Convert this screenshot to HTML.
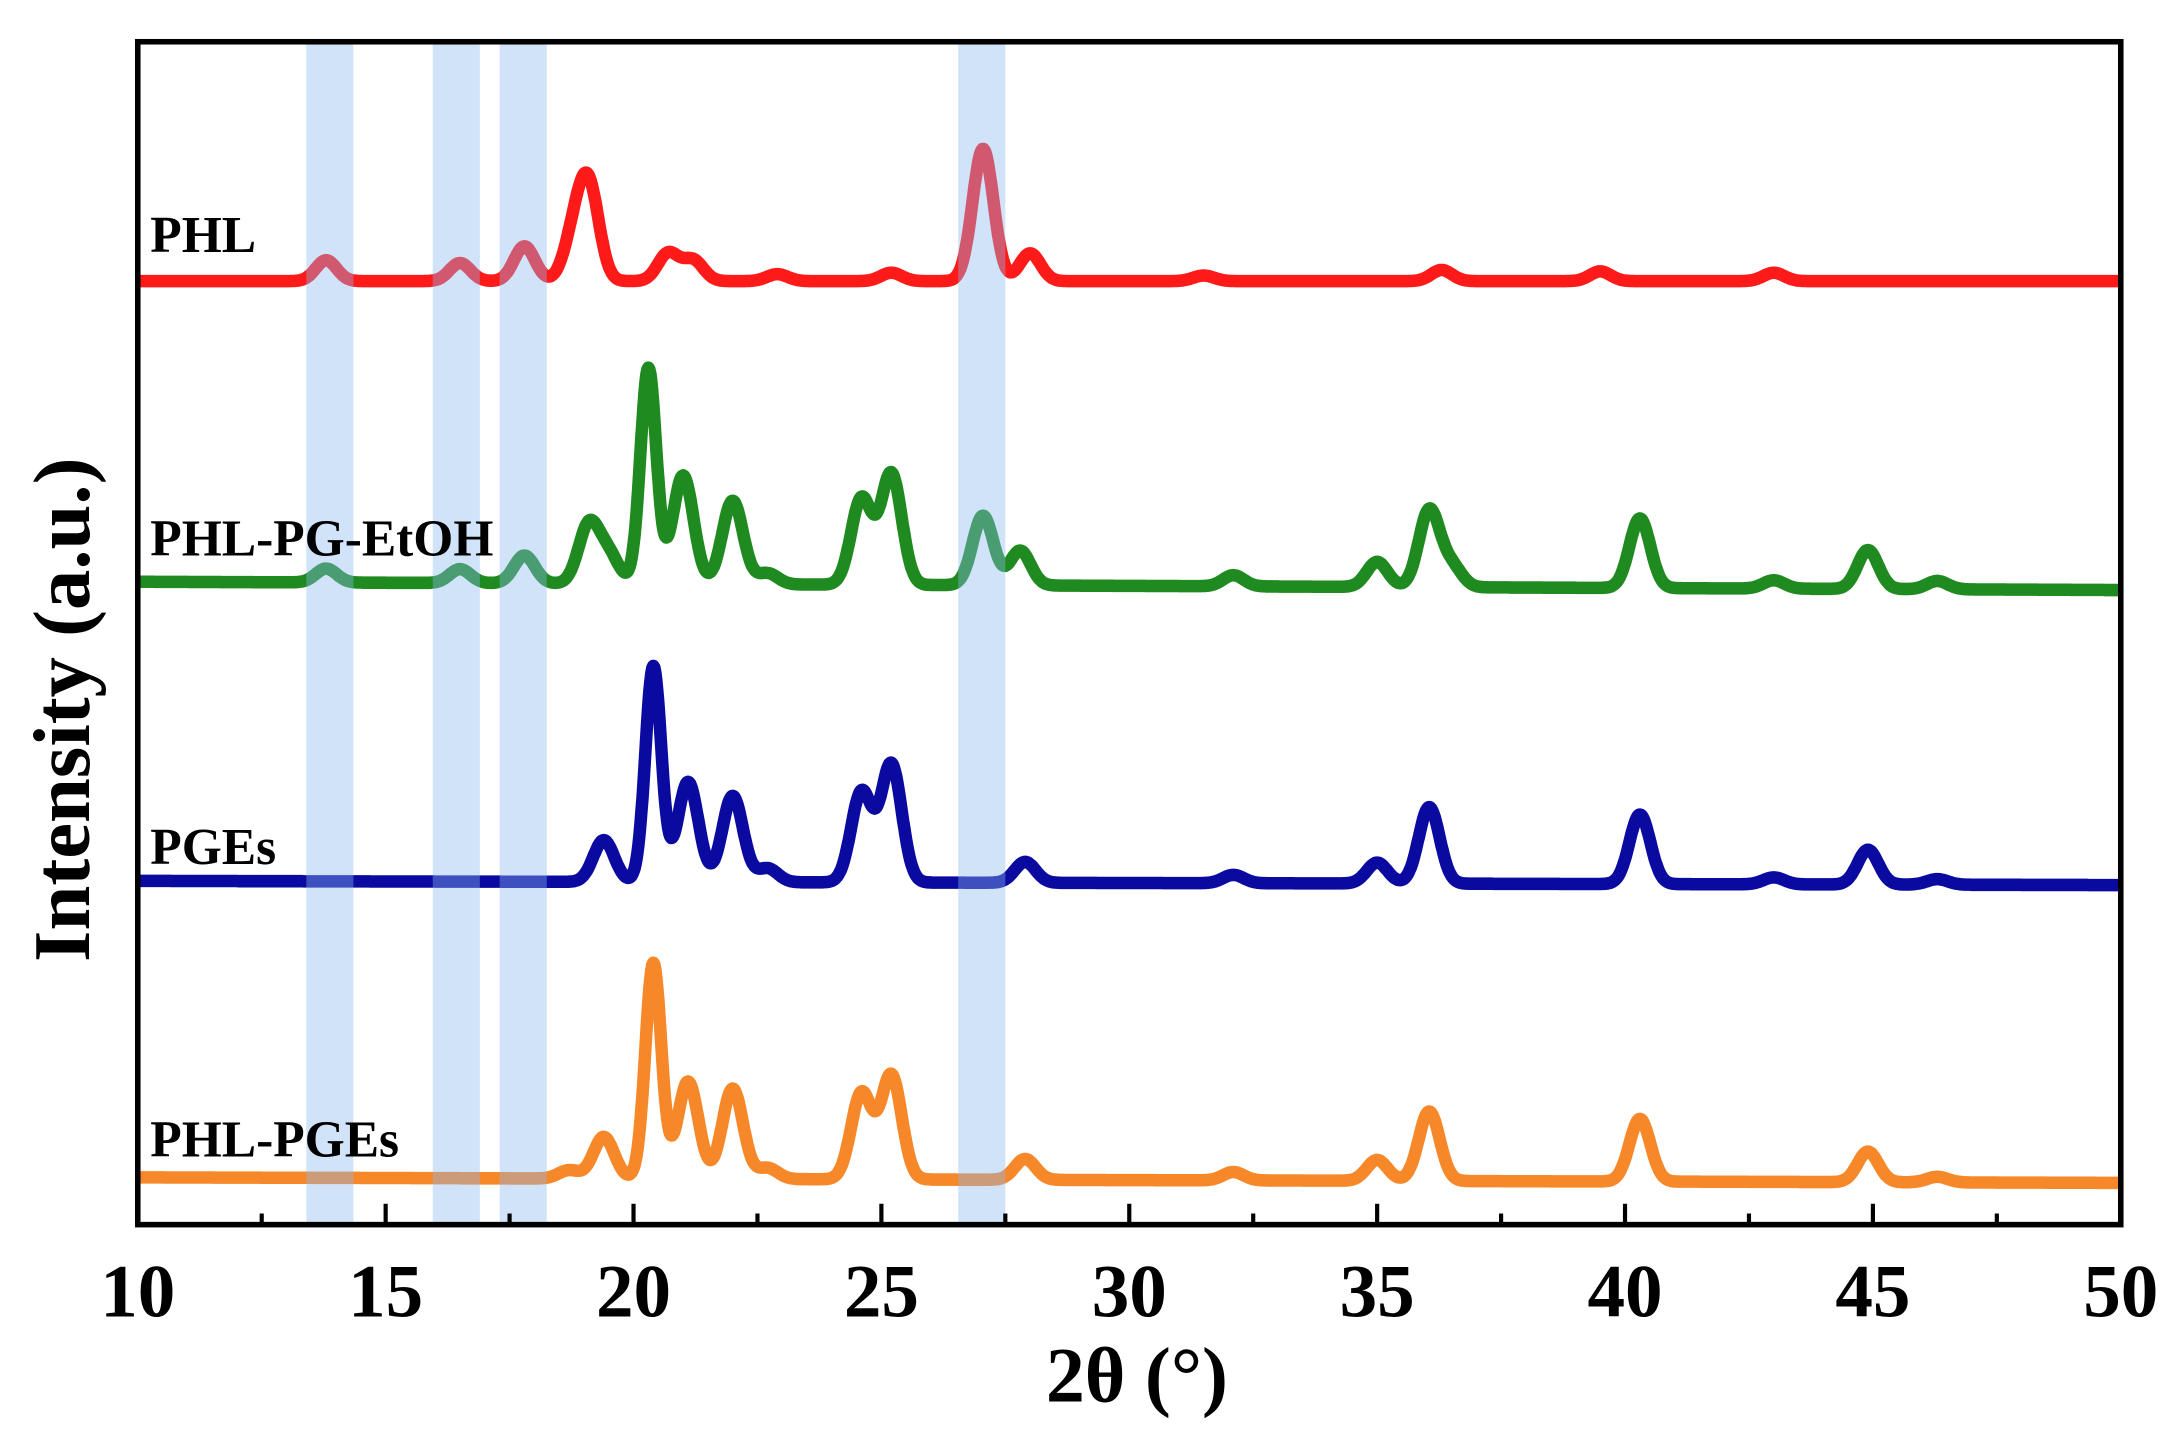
<!DOCTYPE html>
<html><head><meta charset="utf-8"><style>html,body{margin:0;padding:0;background:#fff}svg{display:block}</style></head>
<body>
<svg id="chart" width="2182" height="1432" viewBox="0 0 1568 1029" preserveAspectRatio="none" xmlns="http://www.w3.org/2000/svg" font-family="'Liberation Serif', serif" font-weight="bold">
<rect x="0" y="0" width="1568" height="1029" fill="#fff"/>
<g id="lines"></g>
<g id="bands"></g>
<rect x="99" y="30" width="1425" height="850" fill="none" stroke="#000" stroke-width="4"/>
<g id="ticks"></g>
<text x="108" y="181" font-size="37">PHL</text>
<text x="108" y="399" font-size="37">PHL-PG-EtOH</text>
<text x="108" y="621" font-size="37">PGEs</text>
<text x="108" y="831" font-size="37">PHL-PGEs</text>
<text x="817" y="1007" font-size="56" text-anchor="middle">2θ (°)</text>
<text transform="translate(64,510) rotate(-90)" font-size="58" text-anchor="middle">Intensity (a.u.)</text>
</svg>
<script>
const xTicks=[10,15,20,25,30,35,40,45,50];
const bandRanges=[[13.4,14.35],[15.95,16.9],[17.3,18.25],[26.55,27.5]];
const seriesNames=['PHL','PHL-PG-EtOH','PGEs','PHL-PGEs'];
const seriesColors=['#ff1a1a','#1f8a1f','#0a0aa0','#f7882a'];
const seriesBase=[[202,202],[418,424],[633,636],[846,850]];
const phlPos=[13.8,16.5,17.8,18.8,19.1,20.7,21.2,22.9,25.2,27.05,28.0,31.5,36.3,39.5,43.0];
const phlH=[15,13,25,30,65,20,15,5,6,95,20,4,8,7,6];
const pgeoPos=[13.8,16.5,17.8,19.1,19.5,20.3,21.0,22.0,22.7,24.6,25.2,27.05,27.8,32.1,35.0,36.05,36.5,40.3,43.0,44.9,46.3];
const pgeoH=[10,10,20,42,20,155,78,60,8,62,80,50,25,8,18,55,15,50,6,28,6];
const pgesPos=[19.4,20.4,21.1,22.0,22.7,24.6,25.2,27.9,32.1,35.0,36.05,40.3,43.0,44.9,46.3];
const pgesH=[30,155,72,62,10,65,85,15,6,15,55,50,5,25,4];
const ppPos=[18.7,19.4,20.4,21.1,22.0,22.7,24.6,25.2,27.9,32.1,35.0,36.05,40.3,44.9,46.3];
const ppH=[6,30,155,70,65,8,62,75,15,6,15,50,45,22,4];
const allPos=[phlPos,pgeoPos,pgesPos,ppPos];
const allH=[phlH,pgeoH,pgesH,ppH];
const NS='http://www.w3.org/2000/svg';
const X0=99,X1=1524,xmin=10,xmax=50;
function xs(v){return X0+(v-xmin)/(xmax-xmin)*(X1-X0);}
const gl=document.getElementById('lines');
for(let s=0;s<4;s++){
  let d='';
  for(let v=10;v<=50.001;v+=0.02){
    let b=seriesBase[s][0]+(seriesBase[s][1]-seriesBase[s][0])*(v-10)/40;
    let y=0;
    for(let k=0;k<allPos[s].length;k++){
      const w=allH[s][k]>100?0.16:0.21;
      y+=allH[s][k]*Math.exp(-Math.pow((v-allPos[s][k])/w,2)/2);
    }
    d+=(d?'L':'M')+xs(v).toFixed(1)+','+(b-y).toFixed(1);
  }
  const p=document.createElementNS(NS,'path');
  p.setAttribute('d',d);p.setAttribute('fill','none');p.setAttribute('stroke',seriesColors[s]);
  p.setAttribute('stroke-width','9');p.setAttribute('stroke-linejoin','round');
  
  
  gl.appendChild(p);
}
const gb=document.getElementById('bands');
bandRanges.forEach((r,i)=>{
  const rc=document.createElementNS(NS,'rect');
  rc.setAttribute('x',xs(r[0]));rc.setAttribute('width',xs(r[1])-xs(r[0]));
  rc.setAttribute('y',32);rc.setAttribute('height',846);
  rc.setAttribute('fill','rgba(140,185,240,0.4)');
  
  
  gb.appendChild(rc);
});
const gt=document.getElementById('ticks');
for(let v=10;v<=50;v+=2.5){
  const major=(v%5===0);
  const l=document.createElementNS(NS,'line');
  l.setAttribute('x1',xs(v));l.setAttribute('x2',xs(v));
  l.setAttribute('y1',880);l.setAttribute('y2',major?865:872);
  l.setAttribute('stroke','#000');l.setAttribute('stroke-width','3');
  
  
  gt.appendChild(l);
}
xTicks.forEach(v=>{
  const t=document.createElementNS(NS,'text');
  t.setAttribute('x',xs(v));t.setAttribute('y',946);t.setAttribute('font-size','54');
  t.setAttribute('text-anchor','middle');t.textContent=v;
  
  
  gt.appendChild(t);
});
</script>
</body></html>
